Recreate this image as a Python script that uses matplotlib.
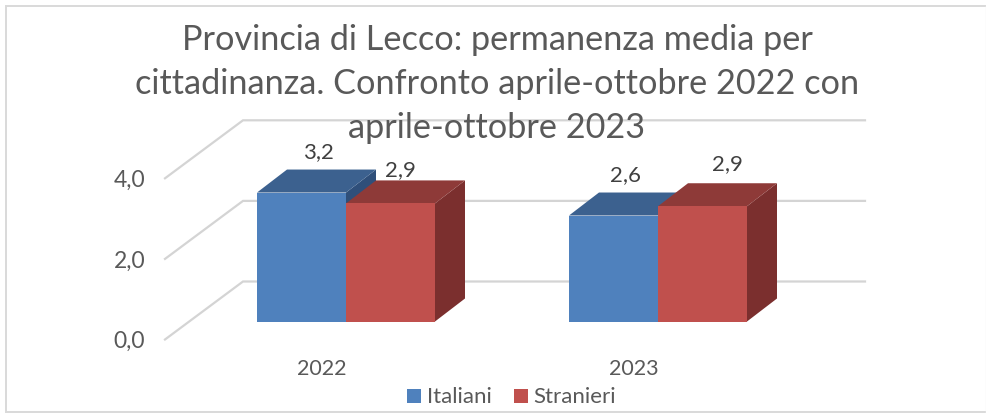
import matplotlib
matplotlib.use("Agg")
import matplotlib.pyplot as plt
from matplotlib.patches import Polygon, Rectangle

years = ["2022", "2023"]
italiani = [3.2, 2.63]
stranieri = [2.93, 2.86]
tick_values = [0.0, 2.0, 4.0]
series_names = ["Italiani", "Stranieri"]
title = "Provincia di Lecco: permanenza media per\ncittadinanza. Confronto aprile-ottobre 2022 con\naprile-ottobre 2023"

W, H = 987, 414
plt.rcParams["font.family"] = ["Lato", "DejaVu Sans"]
fig = plt.figure(figsize=(W / 100, H / 100), dpi=100, facecolor="white")
ax = fig.add_axes([0, 0, 1, 1])
PX_X, PX_Y = 312.0, 40.3
X0, Y0 = 346.0, 322.5
ax.set_xlim(-X0 / PX_X, (W - X0) / PX_X)
ax.set_ylim((Y0 - H) / PX_Y, Y0 / PX_Y)
ax.axis("off")

def px(x, y):
    return (x - X0) / PX_X, (Y0 - y) / PX_Y

DX, DY = 30 / PX_X, 23 / PX_Y
BAR = 89 / PX_X
GRID = "#d4d4d4"
TXT = "#595959"
LBL = "#404040"

# frame: left, top and bottom edges are visible, the right edge is very faint
ax.plot(*zip(px(987, 7), px(6, 7), px(6, 412.5), px(987, 412.5)), color="#d9d9d9", lw=1.4,
        solid_joinstyle="miter", zorder=0)
ax.plot(*zip(px(986, 7), px(986, 412.5)), color="#f4f4f4", lw=1, zorder=0)

# gridlines (wall and floor)
for v in tick_values:
    yb = v + 40 / PX_Y
    yf = v - 18 / PX_Y
    xf = px(165, 0)[0]
    xb = px(243, 0)[0]
    xe = px(865, 0)[0]
    ax.plot([xf, xb, xe], [yf, yb, yb], color=GRID, lw=1.6, solid_joinstyle="miter", zorder=1)
    ax.text(px(145, 0)[0], yf - 1 / PX_Y, f"{v:.1f}".replace(".", ","), ha="right", va="center",
            fontsize=16.5, color=TXT)

def bar(x0, v, front, top, side):
    x1 = x0 + BAR
    ax.add_patch(Polygon([(x1, 0), (x1 + DX, DY), (x1 + DX, v + DY), (x1, v)], fc=side, ec="none", zorder=3))
    ax.add_patch(Polygon([(x0, v), (x1, v), (x1 + DX, v + DY), (x0 + DX, v + DY)], fc=top, ec="none", zorder=3))
    ax.add_patch(Rectangle((x0, 0), BAR, v, fc=front, ec="none", zorder=3))

label_dx_it = [17, 12]
label_dx_st = [10, 24.5]
for i, y in enumerate(years):
    bar(i - BAR, italiani[i], "#4f81bd", "#3c618f", "#2f4f7a")
    bar(i, stranieri[i], "#c0504d", "#8e3a38", "#7b2f2e")
    ax.text(i - BAR / 2 + label_dx_it[i] / PX_X, italiani[i] + 41 / PX_Y, f"{italiani[i]:.1f}".replace(".", ","),
            ha="center", va="center", fontsize=16, color=LBL, zorder=5)
    ax.text(i + BAR / 2 + label_dx_st[i] / PX_X, stranieri[i] + 34 / PX_Y + (i * 9) / PX_Y, f"{stranieri[i]:.1f}".replace(".", ","),
            ha="center", va="center", fontsize=16, color=LBL, zorder=5)
    ax.text(i + (-24 / PX_X), -47 / PX_Y, y, ha="center", va="center", fontsize=15.5, color=TXT)

# title
ax.text(*px(497, 84), title, ha="center", va="center", fontsize=24.7, color=TXT, linespacing=1.48, zorder=6)

# legend
for name, c, xs, xt in zip(series_names, ["#4f81bd", "#c0504d"], [407, 514], [427, 533]):
    ax.add_patch(Rectangle(px(xs, 404), 14 / PX_X, 14 / PX_Y, fc=c, ec="none"))
    ax.text(*px(xt, 397), name, ha="left", va="center", fontsize=16, color=TXT)

fig.savefig("out.png", dpi=100)
